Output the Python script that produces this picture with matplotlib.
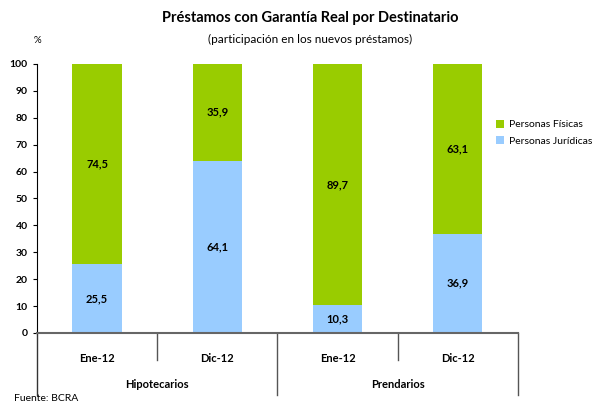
import matplotlib
matplotlib.use('Agg')
import matplotlib.pyplot as plt
from matplotlib.transforms import blended_transform_factory

plt.rcParams['font.family'] = ['Lato', 'DejaVu Sans']

periods = ['Ene-12', 'Dic-12', 'Ene-12', 'Dic-12']
groups = ['Hipotecarios', 'Prendarios']
juridicas = [25.5, 64.1, 10.3, 36.9]
fisicas = [74.5, 35.9, 89.7, 63.1]

green = '#99CC00'
blue = '#99CCFF'

fig = plt.figure(figsize=(5.96, 4.05), dpi=100)
ax = fig.add_axes([0.062, 0.178, 0.807, 0.664])

x = list(range(len(periods)))
ax.bar(x, juridicas, width=0.41, color=blue, label='Personas Jurídicas')
ax.bar(x, fisicas, width=0.41, bottom=juridicas, color=green, label='Personas Físicas')

for i in x:
    ax.text(i, juridicas[i] / 2, f'{juridicas[i]:.1f}'.replace('.', ','),
            ha='center', va='center', fontsize=8, fontweight='bold')
    ax.text(i, juridicas[i] + fisicas[i] / 2, f'{fisicas[i]:.1f}'.replace('.', ','),
            ha='center', va='center', fontsize=8, fontweight='bold')

ax.set_xlim(-0.5, 3.5)
ax.set_ylim(0, 100)
ax.set_yticks(range(0, 101, 10))
for lab in ax.get_yticklabels():
    lab.set_fontweight('bold')
ax.tick_params(axis='y', labelsize=7.5, length=3, color='black')
ax.set_xticks([])
for s in ['top', 'right']:
    ax.spines[s].set_visible(False)
ax.spines['bottom'].set_color('#666666')
ax.spines['bottom'].set_linewidth(1.5)
ax.spines['left'].set_bounds(0, 100)

# category axis below
tr = blended_transform_factory(ax.transData, ax.transAxes)
for i, p in enumerate(periods):
    ax.text(i, -0.095, p, transform=tr, ha='center', va='center', fontsize=8, fontweight='bold')
for j, g in enumerate(groups):
    ax.text(2 * j + 0.5, -0.19, g, transform=tr, ha='center', va='center', fontsize=8, fontweight='bold')
for xs, depth in [(-0.5, -0.23), (0.5, -0.1), (1.5, -0.23), (2.5, -0.1), (3.5, -0.23)]:
    ax.plot([xs, xs], [0, depth], transform=tr, color='#333333' if xs == -0.5 else '#555555',
            lw=1, clip_on=False)

h, l = ax.get_legend_handles_labels()
ax.legend(h[::-1], l[::-1], loc='center left', bbox_to_anchor=(0.935, 0.745), frameon=False,
          fontsize=7.5, handlelength=0.8, handleheight=0.8, handletextpad=0.4, labelspacing=0.65)

fig.text(0.52, 0.955, 'Préstamos con Garantía Real por Destinatario', ha='center', va='center',
         fontsize=10.5, fontweight='bold')
fig.text(0.52, 0.902, '(participación en los nuevos préstamos)', ha='center', va='center', fontsize=8.5)
fig.text(0.062, 0.9, '%', ha='center', va='center', fontsize=7)
fig.text(0.024, 0.017, 'Fuente: BCRA', ha='left', va='center', fontsize=7.5)

fig.savefig('out.png', dpi=100)
